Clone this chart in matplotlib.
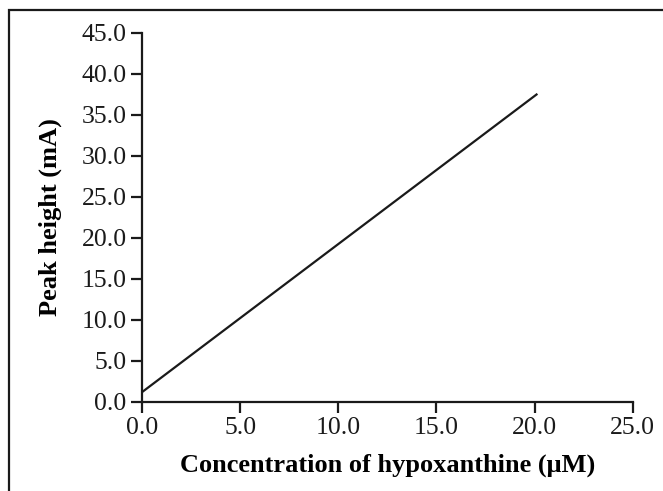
import matplotlib
matplotlib.use("Agg")
import matplotlib.pyplot as plt
from matplotlib.patches import Rectangle

# calibration line
conc = [0.0, 20.1]
peak = [1.2, 37.5]

x_ticks = [0, 5, 10, 15, 20, 25]
y_ticks = [0, 5, 10, 15, 20, 25, 30, 35, 40, 45]

plt.rcParams['font.family'] = ['Liberation Serif', 'DejaVu Serif']

fig = plt.figure(figsize=(6.63, 4.91), dpi=100)
ax = fig.add_axes([0.2142, 0.1813, 0.7401, 0.7515])

ax.plot(conc, peak, color="#1a1a1a", linewidth=1.6)

ax.set_xlim(0, 25)
ax.set_ylim(0, 45)
ax.set_xticks(x_ticks)
ax.set_yticks(y_ticks)
ax.set_xticklabels([f"{v:.1f}" for v in x_ticks])
ax.set_yticklabels([f"{v:.1f}" for v in y_ticks])

for s in ["top", "right"]:
    ax.spines[s].set_visible(False)
for s in ["left", "bottom"]:
    ax.spines[s].set_linewidth(1.6)
    ax.spines[s].set_color("#1a1a1a")
ax.tick_params(direction="out", length=8, width=1.6, labelsize=18.5, pad=3, colors="#1a1a1a")

ax.set_xlabel("Concentration of hypoxanthine (\u03bcM)", fontsize=19, fontweight="bold", labelpad=10)
ax.set_ylabel("Peak height (mA)", fontsize=19, fontweight="bold", labelpad=14)

# outer frame: only left and top edges fall inside the picture
fig.patches.append(Rectangle((9 / 663, -20 / 491), 700 / 663, 501 / 491, transform=fig.transFigure,
                             fill=False, edgecolor="#1a1a1a", linewidth=1.6))

fig.savefig("out.png", dpi=100)
